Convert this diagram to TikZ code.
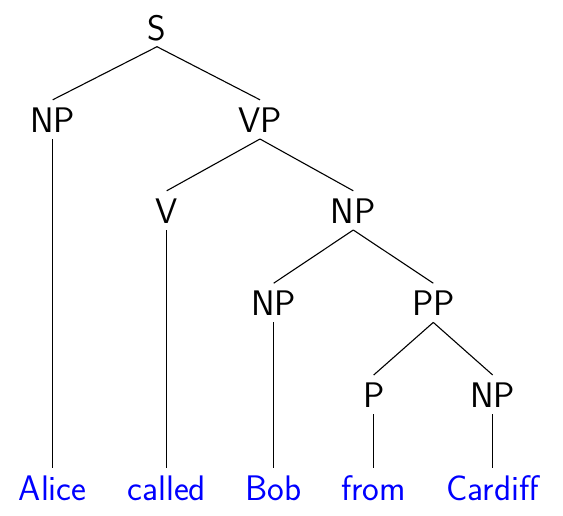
\documentclass[tikz,border=0pt]{standalone}
\begin{document}
\begin{tikzpicture}[x=1pt,y=-1pt,
  lab/.style={font=\fontsize{35.5}{40}\selectfont\sffamily, anchor=base, inner sep=0pt, text height=24pt, text depth=0pt},
  leaf/.style={lab, text=blue},
  br/.style={line width=1.1pt}]
\useasboundingbox (0,0) rectangle (563,515);
\node[lab] (S) at (157,40) {S};
\node[lab] (NPa) at (52.7,132.3) {NP};
\node[lab] (VP) at (260,132.3) {VP};
\node[lab] (V) at (166.7,223.3) {V};
\node[lab] (NPb) at (353.3,223.3) {NP};
\node[lab] (NPc) at (273.7,315.7) {NP};
\node[lab] (PP) at (433.3,315.7) {PP};
\node[lab] (P) at (373.7,407.5) {P};
\node[lab] (NPd) at (492.7,407.5) {NP};
\node[leaf] (Alice) at (52.7,500) {Alice};
\node[leaf] (called) at (166.7,500) {called};
\node[leaf] (Bob) at (273.7,500) {Bob};
\node[leaf] (from) at (373.7,500) {from};
\node[leaf] (Cardiff) at (492.7,500) {Cardiff};
\foreach \a/\b in {S/NPa,S/VP,NPa/Alice,VP/V,VP/NPb,V/called,NPb/NPc,NPb/PP,NPc/Bob,PP/P,PP/NPd,P/from,NPd/Cardiff}
  \draw[br] ([yshift=-6.5pt]\a.south) -- ([yshift=8.3pt]\b.north);
\end{tikzpicture}
\end{document}
